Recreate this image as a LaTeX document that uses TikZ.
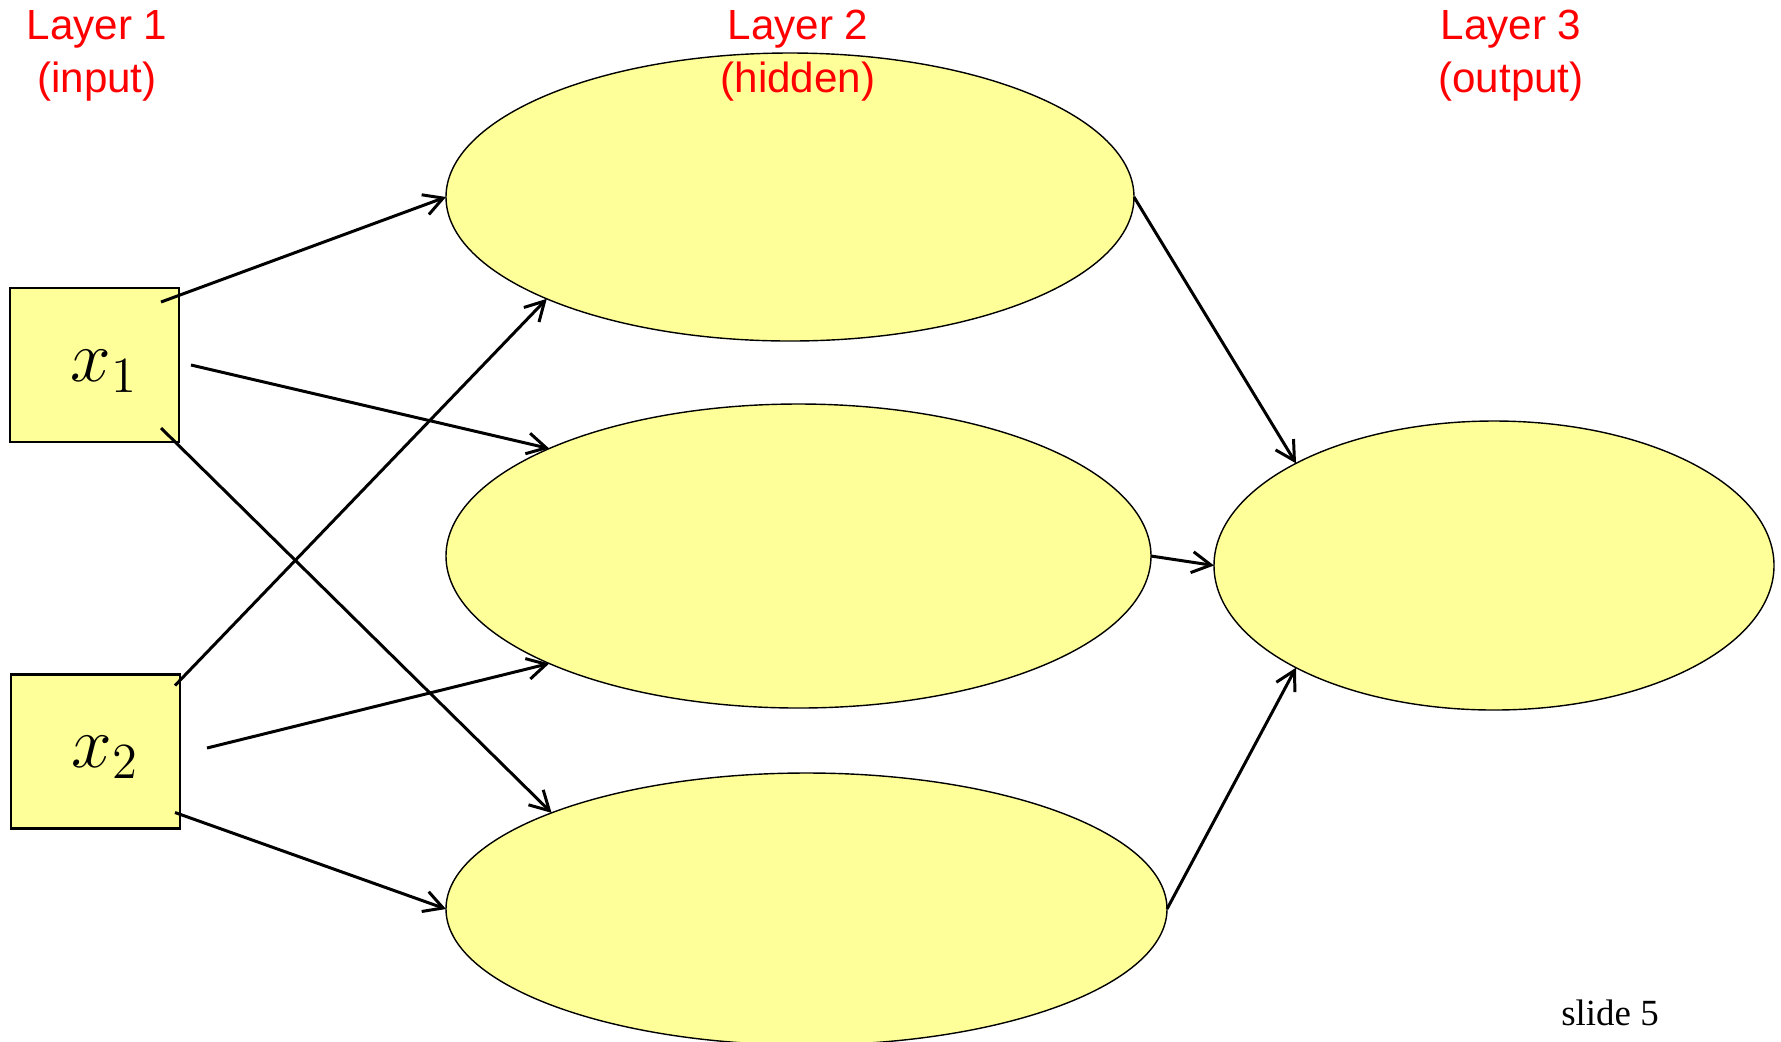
\documentclass[tikz,border=0pt]{standalone}
\usepackage{fontspec}
\setmainfont{Liberation Sans}
\newfontfamily\timesfont{Liberation Serif}
\usepackage{xcolor}
\usetikzlibrary{arrows.meta, positioning, calc, shapes.geometric}
\definecolor{paleyellow}{HTML}{FFFF99}

\begin{document}
\begin{tikzpicture}[
    inbox/.style={draw, line width=0.6pt, fill=paleyellow, rectangle, minimum width=1.69cm, minimum height=1.54cm, inner sep=0pt, outer sep=0pt},
    varname/.style={inner sep=0pt, font=\fontsize{21}{24}\selectfont},
    unit/.style={draw, line width=0.4pt, fill=paleyellow, ellipse, inner sep=0pt, outer sep=0pt},
    layertext/.style={text=red, align=center, font=\fontsize{12}{15}\selectfont},
    conn/.style={line width=0.85pt, -{Straight Barb[length=1.9mm, width=2.1mm]}}
]
    \useasboundingbox (0, 0) rectangle (17.81, -10.41);

    % 输入层
    \node[inbox] (x1) at (0.945, -3.65) {};
    \node[inbox] (x2) at (0.955, -7.515) {};
    \node[varname] (v1) at ($(x1.center)+(0.10, -0.06)$) {$x_1$};
    \node[varname] (v2) at ($(x2.center)+(0.10, -0.06)$) {$x_2$};

    % 隐藏层
    \node[unit, minimum width=6.88cm, minimum height=2.88cm] (h1) at (7.90, -1.97) {};
    \node[unit, minimum width=7.05cm, minimum height=3.04cm] (h2) at (7.985, -5.56) {};
    \node[unit, minimum width=7.21cm, minimum height=2.72cm] (h3) at (8.065, -9.09) {};

    % 输出层
    \node[unit, minimum width=5.60cm, minimum height=2.89cm] (out) at (14.94, -5.655) {};

    % 标题
    \node[layertext] (t1) at (0.97, -0.555) {Layer 1\\(input)};
    \node[layertext] (t2) at (7.98, -0.555) {Layer 2\\(hidden)};
    \node[layertext] (t3) at (15.11, -0.555) {Layer 3\\(output)};

    % 连线起点
    \coordinate (a1) at ($(x1.north east)+(-0.18, -0.14)$);
    \coordinate (a2) at ($(x1.east)+(0.12, 0)$);
    \coordinate (a3) at ($(x1.south east)+(-0.18, 0.14)$);
    \coordinate (b1) at ($(x2.north east)+(-0.05, -0.11)$);
    \coordinate (b2) at ($(x2.east)+(0.27, 0.035)$);
    \coordinate (b3) at ($(x2.south east)+(-0.05, 0.16)$);

    % 连线
    \draw[conn] (a1) -- (h1.west);
    \draw[conn] (a2) -- (h2.north west);
    \draw[conn] (a3) -- (h3.north west);
    \draw[conn] (b1) -- (h1.south west);
    \draw[conn] (b2) -- (h2.south west);
    \draw[conn] (b3) -- (h3.west);
    \draw[conn] (h1.east) -- (out.north west);
    \draw[conn] (h2.east) -- (out.west);
    \draw[conn] (h3.east) -- (out.south west);

    % 页码
    \node[font=\timesfont\fontsize{10.5}{12}\selectfont] (pg) at (16.10, -10.13) {slide 5};
\end{tikzpicture}
\end{document}
